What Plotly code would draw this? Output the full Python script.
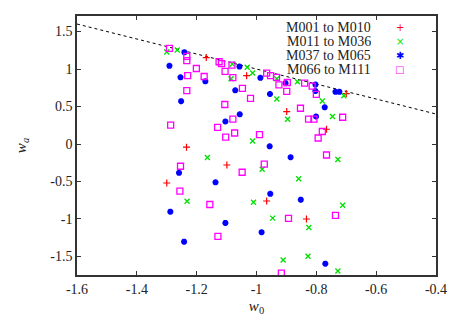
import plotly.graph_objects as go

# M001 to M010
w0_a = [-1.168, -1.033, -0.899, -0.700, -0.766, -1.234, -1.099, -1.300, -0.966, -0.833]
wa_a = [1.153, 0.911, 0.433, 0.673, 0.197, -0.043, -0.280, -0.520, -0.760, -1.000]

# M011 to M036
w0_b = [-1.300, -1.265, -1.081, -1.085, -1.031, -1.013, -0.932, -0.863, -0.708, -0.932,
        -0.780, -0.896, -0.746, -1.013, -0.728, -1.164, -0.981, -0.859, -1.232, -1.010,
        -0.712, -0.946, -0.825, -0.911, -0.828, -0.728]
wa_b = [1.227, 1.253, 1.067, 0.871, 1.023, 0.947, 0.871, 0.831, 0.643, 0.600,
        0.573, 0.331, 0.367, 0.040, -0.207, -0.180, -0.337, -0.463, -0.763, -0.777,
        -0.817, -0.989, -1.113, -1.547, -1.497, -1.693]

# M037 to M065
w0_c = [-1.241, -1.291, -1.057, -1.254, -1.171, -0.987, -1.071, -0.903, -0.803, -0.803,
        -0.955, -0.736, -0.723, -1.252, -1.056, -0.772, -1.104, -0.801, -0.956, -0.886,
        -1.259, -1.137, -0.954, -0.852, -1.288, -1.104, -0.983, -1.242, -0.770]
wa_c = [1.223, 1.043, 1.033, 0.889, 0.836, 0.883, 0.716, 0.811, 0.793, 0.707,
        0.667, 0.696, 0.696, 0.571, 0.396, 0.489, 0.300, 0.367, -0.031, -0.177,
        -0.384, -0.511, -0.664, -0.743, -0.903, -1.053, -1.177, -1.303, -1.596]

# M066 to M111
w0_d = [-1.291, -1.233, -1.233, -1.201, -1.230, -1.175, -1.233, -1.287, -1.125, -1.117,
        -1.082, -1.105, -1.079, -1.047, -1.106, -1.020, -1.079, -1.130, -1.073, -1.103,
        -0.966, -0.953, -0.933, -0.925, -0.897, -0.899, -0.839, -0.814, -0.800, -0.853,
        -0.826, -0.808, -0.712, -0.990, -0.780, -0.794, -0.766, -1.254, -1.048, -0.974,
        -1.256, -1.156, -0.736, -0.893, -1.129, -0.917]
wa_d = [1.276, 1.169, 1.113, 1.007, 0.913, 0.900, 0.711, 0.251, 1.097, 1.073,
        1.051, 0.969, 0.884, 0.743, 0.527, 0.609, 0.331, 0.223, 0.147, 0.091,
        0.944, 0.913, 0.889, 0.789, 0.820, 0.703, 0.811, 0.773, 0.663, 0.477,
        0.331, 0.333, 0.357, 0.124, 0.167, 0.080, -0.147, -0.297, -0.377, -0.269,
        -0.629, -0.807, -0.951, -0.991, -1.231, -1.723]

# dotted reference line w_a = -w_0
line_x = [-1.6, -0.4]
line_y = [1.6, 0.4]

x_ticks = [-1.6, -1.4, -1.2, -1.0, -0.8, -0.6, -0.4]
x_labels = ["-1.6", "-1.4", "-1.2", "-1", "-0.8", "-0.6", "-0.4"]
y_ticks = [-1.5, -1.0, -0.5, 0, 0.5, 1.0, 1.5]
y_labels = ["-1.5", "-1", "-0.5", "0", "0.5", "1", "1.5"]

FONT = "'Liberation Serif', 'DejaVu Serif', serif"
TXT = "#222222"

fig = go.Figure()

fig.add_trace(go.Scatter(x=line_x, y=line_y, mode="lines", showlegend=False,
                         line=dict(color="black", width=1, dash="dot")))

# name, x, y, plotly symbol, colour, size, line width, key glyph
series = [
    ("M001 to M010", w0_a, wa_a, "cross-thin-open", "#ff0000", 5, 1.2, "+"),
    ("M011 to M036", w0_b, wa_b, "x-thin-open", "#00e000", 5, 1.3, "×"),
    ("M037 to M065", w0_c, wa_c, "asterisk-open", "#0000ff", 5, 2, "✱"),
    ("M066 to M111", w0_d, wa_d, "square-open", "#ff00ff", 6, 1.3, "□"),
]
for name, xs, ys, sym, col, sz, lw, _ in series:
    fig.add_trace(go.Scatter(
        x=xs, y=ys, mode="markers", name=name, showlegend=False,
        marker=dict(symbol=sym, size=sz, color=col, line=dict(color=col, width=lw)),
    ))

# gnuplot-style key: right aligned text, sample glyph on the right
for i, (name, _, _, _, col, _, _, glyph) in enumerate(series):
    fy = 0.9575 - i * 0.054
    fig.add_annotation(x=0.8245, y=fy, xref="paper", yref="paper", text=name,
                       showarrow=False, xanchor="right", yanchor="middle", height=14,
                       font=dict(family=FONT, size=14, color=TXT))
    fig.add_annotation(x=0.8997, y=fy, xref="paper", yref="paper", text=glyph,
                       showarrow=False, xanchor="center", yanchor="middle", height=14,
                       font=dict(family="DejaVu Sans", size=10, color=col))

axis_common = dict(
    showline=True, linecolor="#333333", linewidth=1.5, mirror="ticks",
    ticks="inside", ticklen=4, tickcolor="#333333", showgrid=False, zeroline=False,
    automargin=False,
    tickfont=dict(family=FONT, size=14, color=TXT),
)

fig.update_xaxes(range=[-1.6, -0.4], tickvals=x_ticks, ticktext=x_labels,
                 title=dict(text="<i>w</i><sub>0</sub>", font=dict(family=FONT, size=15, color=TXT), standoff=5),
                 **axis_common)
fig.update_yaxes(range=[-1.747, 1.707], tickvals=y_ticks, ticktext=y_labels,
                 title=dict(text="<i>w</i><sub><i>a</i></sub>", font=dict(family=FONT, size=15, color=TXT), standoff=20),
                 **axis_common)

# page body has an 8px margin, so the figure is shifted to compensate
fig.update_layout(
    width=449, height=312,
    margin=dict(l=69, r=21, t=8, b=45),
    paper_bgcolor="white", plot_bgcolor="white",
    font=dict(family=FONT, color=TXT),
    showlegend=False,
)

fig.write_html("out.html")
